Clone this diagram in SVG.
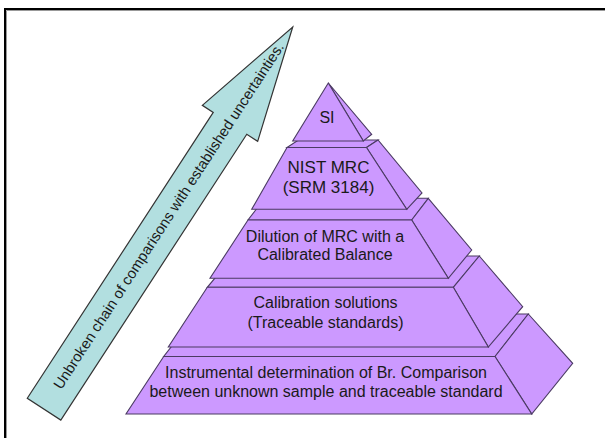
<svg xmlns="http://www.w3.org/2000/svg" width="605" height="438" viewBox="0 0 605 438">
<style>
.face{fill:#CC99FF;stroke:#4b3b63;stroke-width:1.1;stroke-linejoin:miter}
.lbl{font-family:"Liberation Sans",Arial,sans-serif;font-size:16px;fill:#1a1a1a;text-anchor:middle}
.arrow{fill:#B2DFE0;stroke:#333;stroke-width:1.2}
.atxt{font-family:"Liberation Sans",Arial,sans-serif;font-size:14.8px;fill:#1a1a1a;text-anchor:middle}
</style>
<rect width="605" height="438" fill="#fff"/>
<g id="frame">
<path d="M5,438 V9 H605" fill="none" stroke="#000" stroke-width="2"/>
<path d="M6.5,438 V10.5 H605" fill="none" stroke="#999" stroke-width="1"/>
</g>
<g id="chain-arrow" transform="translate(44.04,409.17) rotate(-56.95)">
<polygon class="arrow" points="0,-20 341,-20 341,-33 456,0 341,33 341,20 0,20"/>
<text class="atxt" x="230" y="4">Unbroken chain of comparisons with established uncertainties.</text>
</g>
<g id="tier5">
<polygon class="face" points="163.7,356.5 495,356.5 528.3,314 197,314"/>
<polygon class="face" points="495,356.5 528.3,314 572.7,363.3 531.7,414"/>
<polygon class="face" points="163.7,356.5 495,356.5 531.7,414 126,414"/>
<text class="lbl" x="326" y="378.3">Instrumental determination of Br. Comparison</text>
<text class="lbl" x="326" y="396.7">between unknown sample and traceable standard</text>
</g>
<g id="tier4">
<polygon class="face" points="207.3,287.3 453.3,287.3 479.3,256 233.3,256"/>
<polygon class="face" points="453.3,287.3 479.3,256 522.7,306.7 488.3,347"/>
<polygon class="face" points="207.3,287.3 453.3,287.3 488.3,347 168.3,347"/>
<text class="lbl" x="325.5" y="308.3">Calibration solutions</text>
<text class="lbl" x="325.5" y="327.5">(Traceable standards)</text>
</g>
<g id="tier3">
<polygon class="face" points="248,220 411.7,220 428.3,198.3 264.6,198.3"/>
<polygon class="face" points="411.7,220 428.3,198.3 471.7,250 448.3,278.3"/>
<polygon class="face" points="248,220 411.7,220 448.3,278.3 210,278.3"/>
<text class="lbl" x="325" y="241.7">Dilution of MRC with a</text>
<text class="lbl" x="325" y="260">Calibrated Balance</text>
</g>
<g id="tier2">
<polygon class="face" points="287,147.5 366.5,147.5 378,140 298.5,140"/>
<polygon class="face" points="366.5,147.5 378,140 422,193 406.7,209.3"/>
<polygon class="face" points="287,147.5 366.5,147.5 406.7,209.3 251.7,209.3"/>
<text class="lbl" x="328.5" y="173.3" style="font-size:17px">NIST MRC</text>
<text class="lbl" x="328.5" y="193.3" style="font-size:17px">(SRM 3184)</text>
</g>
<g id="tier1">
<polygon class="face" points="328.3,83 371.7,134.3 363.3,141"/>
<polygon class="face" points="328.3,83 363.3,141 292.7,141"/>
<text class="lbl" x="327" y="123.3">SI</text>
</g>
</svg>
